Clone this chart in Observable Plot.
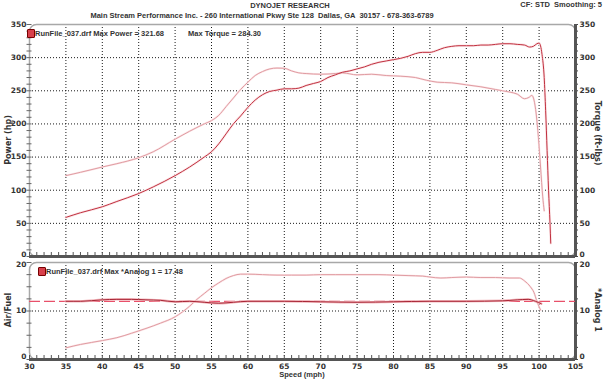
<!DOCTYPE html>
<html><head><meta charset="utf-8">
<script src="https://cdn.jsdelivr.net/npm/d3@7"></script>
<script src="https://cdn.jsdelivr.net/npm/@observablehq/plot@0.6"></script>
<style>
body{margin:0;background:#fff;}
#wrap{position:relative;width:604px;height:379px;overflow:hidden;font-family:"Liberation Sans",Arial,sans-serif;font-weight:bold;color:#333;}
.t{position:absolute;white-space:pre;font-size:7.5px;line-height:1;}
.rot{position:absolute;white-space:pre;font-size:8px;line-height:1;font-family:"DejaVu Sans",sans-serif;font-weight:bold;}
.sq{position:absolute;width:6px;height:7px;background:#d8404c;border:1px solid #700;border-radius:1px;}
#topPanel,#botPanel{position:absolute;left:0;}
#topPanel{top:0;} #botPanel{top:258px;}
</style></head>
<body><div id="wrap">
<div id="topPanel"></div><div id="botPanel"></div>
</div>
<script>
// ---- data ----
const powerSpeed = [35,37,40,42,45,47,50,52,54,55,56,57,58,59,60,61,62,63,64,65,66,67,68,69,70,71,72,73,74,75,76,77,78,79,80,81,82,83,84,85,86,87,88,89,90,91,92,93,94,95,96,97,98,98.7,99.2,99.7,100,100.4,100.7,100.9,101.1,101.3,101.5,101.6];
const powerHp    = [59,66,75,83,95,105,122,135,150,158,170,185,200,212,225,236,244,249,251,253,253,254,258,261,264,270,274,278,280,283,286,290,293,295,297,299,302,306,308,308,311,315,317,318,318,318,319,319,320,321,321,320,319,316,317,321,322,305,270,220,160,100,50,20];
const torqueSpeed = [35,37,40,42,45,47,50,52,54,55,56,57,58,59,60,61,62,63,64,65,66,67,68,70,72,73,75,77,79,81,83,84.5,86,88,90,92,94,95,96,97,98,98.6,99,99.3,99.6,99.9,100.2,100.5,100.7];
const torqueFtLbs = [122,127,135,140,149,158,177,189,200,205,213,226,239,252,263,273,279,283,284.3,284,280,277,276,275,276,277,274,275,273,272,270,266,263,262,259,256,252,250,248,245,238,240,243,236,215,180,135,90,69];
const analogSpeed = [35,37,40,42,44,46,48,50,51,52,53,54,55,56,57,58,59,60,62,64,66,68,70,72,75,78,80,82,84,85,86.5,88,90,92,94,96,97.3,98,98.8,99.3,99.7,100.2];
const analogValue = [2.4,3.1,3.9,4.5,5.4,6.4,7.5,8.8,9.8,11.0,12.4,13.6,14.8,15.8,16.7,17.3,17.6,17.6,17.5,17.4,17.4,17.4,17.5,17.5,17.5,17.5,17.4,17.3,17.2,17.0,16.8,16.9,17.0,16.9,16.9,16.8,16.8,16.2,15.0,13.8,12.0,10.2];
const afrSpeed = [35,37,40,42,44,46,48,50,52,54,56,58,60,65,70,75,80,85,90,95,97,98.5,99.5,100.3];
const afrValue = [12.0,12.0,12.3,12.4,12.4,12.3,12.2,11.9,12.0,11.8,11.6,11.8,12.0,12.0,11.9,11.8,11.9,12.0,12.0,12.1,12.3,12.4,12.0,11.5];
const afrTarget = [12];
const speedTicks = d3.range(30, 106, 5);
const powerTicks = [0,50,100,150,200,250,300,350];
const afrTicks = [0,10,20];

const power = powerSpeed.map((s,i)=>({s, v: powerHp[i]}));
const torque = torqueSpeed.map((s,i)=>({s, v: torqueFtLbs[i]}));
const analog = analogSpeed.map((s,i)=>({s, v: analogValue[i]}));
const afr = afrSpeed.map((s,i)=>({s, v: afrValue[i]}));

const gridStyle = {stroke:"#000", strokeOpacity:0.9, strokeDasharray:"1,2", strokeWidth:1};
const inner = speedTicks.slice(1,-1);
const style = {fontFamily:"DejaVu Sans, sans-serif", fontSize:"7.5px", fontWeight:"bold", color:"#333", background:"transparent", overflow:"visible"};
const halo = "#fce6e8";

const topChart = Plot.plot({
  width:604, height:262, marginLeft:29, marginRight:29, marginTop:24, marginBottom:6,
  x:{domain:[30,105], axis:null}, y:{domain:[0,350], axis:null}, style,
  marks:[
    Plot.gridX(inner, gridStyle),
    Plot.gridY(powerTicks.slice(1,-1), gridStyle),
    Plot.frame({rx:7, stroke:"#a8a8a8", strokeWidth:1.5}),
    Plot.axisY({anchor:"left", ticks:d3.range(0,351,10), tickSize:5, dx:2.5, text:null, label:null, stroke:"#666"}),
    Plot.axisY({anchor:"left", ticks:powerTicks.slice(1), tickSize:0, tickPadding:3, label:null}),
    Plot.axisY({anchor:"left", ticks:powerTicks.slice(0,1), tickSize:0, tickPadding:3, dy:-2, label:null}),
    Plot.axisY({anchor:"right", ticks:d3.range(0,351,10), tickSize:4, dx:-2, text:null, label:null, stroke:"#444"}),
    Plot.axisY({anchor:"right", ticks:powerTicks.slice(1), tickSize:0, tickPadding:4, label:null}),
    Plot.axisY({anchor:"right", ticks:powerTicks.slice(0,1), tickSize:0, tickPadding:4, dy:-2, label:null}),
    Plot.axisX({anchor:"bottom", ticks:d3.range(30,106,1), tickSize:3, dy:-4, text:null, label:null, stroke:"#555"}),
    Plot.ruleY([0], {stroke:"#555", strokeWidth:3}),
    Plot.ruleX([105], {stroke:"#555", strokeWidth:3}),
    Plot.line(torque, {x:"s", y:"v", stroke:halo, strokeWidth:2, curve:"monotone-x"}),
    Plot.line(power, {x:"s", y:"v", stroke:halo, strokeWidth:2.5, curve:"monotone-x"}),
    Plot.line(torque, {x:"s", y:"v", stroke:"#e09ca2", strokeWidth:1, curve:"monotone-x"}),
    Plot.line(power, {x:"s", y:"v", stroke:"#c0303f", strokeWidth:1, curve:"monotone-x"})
  ]
});
document.getElementById("topPanel").appendChild(topChart);

const botChart = Plot.plot({
  width:604, height:121, marginLeft:29, marginRight:29, marginTop:4, marginBottom:20,
  x:{domain:[30,105], axis:null}, y:{domain:[0,20], axis:null}, style,
  marks:[
    Plot.gridX(inner, gridStyle),
    Plot.gridY([10], gridStyle),
    Plot.frame({rx:7, stroke:"#a8a8a8", strokeWidth:1.5}),
    Plot.axisY({anchor:"left", ticks:d3.range(0,20.1,2.5), tickSize:5, dx:2.5, text:null, label:null, stroke:"#666"}),
    Plot.axisY({anchor:"left", ticks:afrTicks.slice(1,2), tickSize:0, tickPadding:3, label:null}),
    Plot.axisY({anchor:"left", ticks:afrTicks.slice(0,1), tickSize:0, tickPadding:3, dy:-3, label:null}),
    Plot.axisY({anchor:"left", ticks:afrTicks.slice(2), tickSize:0, tickPadding:3, dy:2, label:null}),
    Plot.axisY({anchor:"right", ticks:d3.range(0,20.1,2.5), tickSize:4, dx:-2, text:null, label:null, stroke:"#444"}),
    Plot.axisY({anchor:"right", ticks:afrTicks.slice(1,2), tickSize:0, tickPadding:4, label:null}),
    Plot.axisY({anchor:"right", ticks:afrTicks.slice(0,1), tickSize:0, tickPadding:4, dy:-3, label:null}),
    Plot.axisY({anchor:"right", ticks:afrTicks.slice(2), tickSize:0, tickPadding:4, dy:2, label:null}),
    Plot.axisX({anchor:"bottom", ticks:d3.range(30,106,1), tickSize:3, dy:-4, text:null, label:null, stroke:"#555"}),
    Plot.axisX({anchor:"bottom", ticks:speedTicks, tickSize:0, tickPadding:4, label:null}),
    Plot.ruleY([0], {stroke:"#555", strokeWidth:3}),
    Plot.ruleX([105], {stroke:"#555", strokeWidth:3}),
    Plot.ruleY(afrTarget, {stroke:"#e8506a", strokeWidth:1.2, strokeDasharray:"11,4"}),
    Plot.line(analog, {x:"s", y:"v", stroke:halo, strokeWidth:2, curve:"monotone-x"}),
    Plot.line(analog, {x:"s", y:"v", stroke:"#e09ca2", strokeWidth:1, curve:"monotone-x"}),
    Plot.line(afr, {x:"s", y:"v", stroke:"#f3b8bd", strokeWidth:2.5, curve:"monotone-x"}),
    Plot.line(afr, {x:"s", y:"v", stroke:"#a82535", strokeWidth:1, curve:"monotone-x"})
  ]
});
document.getElementById("botPanel").appendChild(botChart);

// ---- text overlays ----
const wrap = document.getElementById("wrap");
function add(cls, txt, css){ const d=document.createElement("div"); d.className=cls; d.textContent=txt; Object.assign(d.style, css); wrap.appendChild(d); return d; }
add("t","DYNOJET RESEARCH",{left:"0px",width:"580px",textAlign:"center",top:"2px"});
add("t","Main Stream Performance Inc. - 260 International Pkwy Ste 128  Dallas, GA  30157 - 678-363-6789",{left:"0px",width:"524px",textAlign:"center",top:"12px"});
add("t","CF: STD  Smoothing: 5",{right:"2px",top:"1px"});
add("sq","",{left:"27px",top:"29px"});
add("t","RunFile_037.drf Max Power = 321.68",{left:"35px",top:"30px"});
add("t","Max Torque = 284.30",{left:"188px",top:"30px"});
add("sq","",{left:"38px",top:"267px"});
add("t","RunFile_037.drf Max *Analog 1 = 17.48",{left:"46px",top:"268px"});
add("t","Speed (mph)",{left:"0px",width:"604px",textAlign:"center",top:"371px"});
add("rot","Power (hp)",{left:"9px",top:"140px",transform:"translate(-50%,-50%) rotate(-90deg)"});
add("rot","Torque (ft-lbs)",{left:"597px",top:"133px",transform:"translate(-50%,-50%) rotate(90deg)"});
add("rot","Air/Fuel",{left:"9px",top:"310px",transform:"translate(-50%,-50%) rotate(-90deg)"});
add("rot","*Analog 1",{left:"597px",top:"310px",transform:"translate(-50%,-50%) rotate(90deg)"});
</script>
</body></html>
